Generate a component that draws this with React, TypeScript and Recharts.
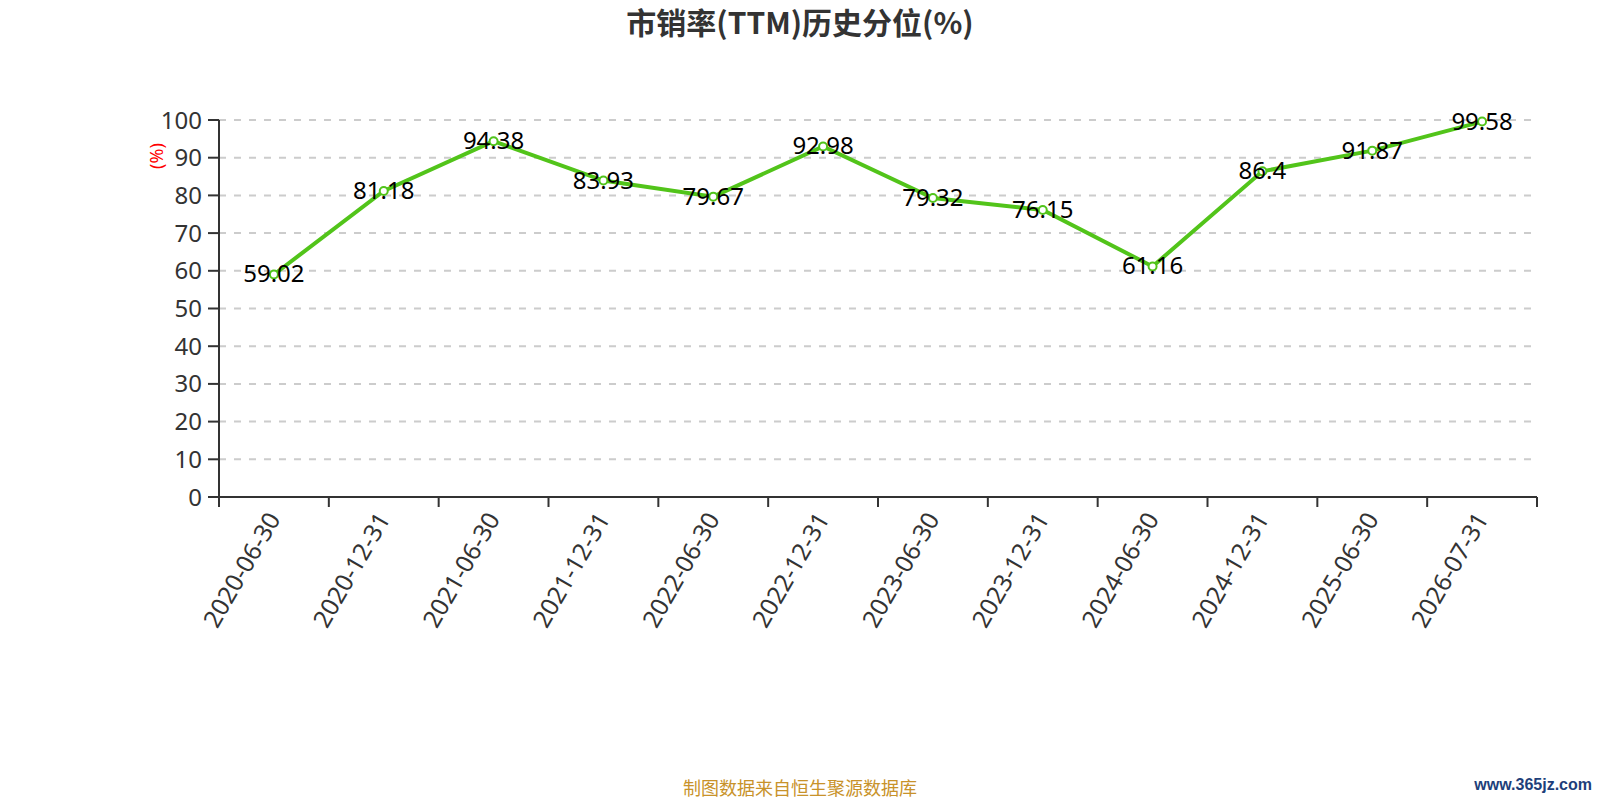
import { LineChart, Line, XAxis, YAxis, CartesianGrid, LabelList } from "recharts";

const dates = [
  "2020-06-30", "2020-12-31", "2021-06-30", "2021-12-31", "2022-06-30", "2022-12-31",
  "2023-06-30", "2023-12-31", "2024-06-30", "2024-12-31", "2025-06-30", "2026-07-31",
];
const percentiles = [59.02, 81.18, 94.38, 83.93, 79.67, 92.98, 79.32, 76.15, 61.16, 86.4, 91.87, 99.58];
const yTicks = [0, 10, 20, 30, 40, 50, 60, 70, 80, 90, 100];

const data = dates.map((date, i) => ({ date, value: percentiles[i] }));

const FONT = "'Noto Sans', 'Noto Sans CJK SC', sans-serif";
const GREEN = "#52c41a";
const AXIS = "#333";

// category label at band centre, tick marks on band boundaries (echarts style)
function DateTick(props: any) {
  const { x, y, payload, index, visibleTicksCount, width } = props;
  const half = payload?.offset ?? width / visibleTicksCount / 2;
  const last = index === visibleTicksCount - 1;
  return (
    <g>
      <line x1={x - half} x2={x - half} y1={y} y2={y + 10} stroke={AXIS} strokeWidth={2} />
      {last && <line x1={x + half} x2={x + half} y1={y} y2={y + 10} stroke={AXIS} strokeWidth={2} />}
      <text
        transform={`translate(${x - 1}, ${y + 17}) rotate(-60)`}
        textAnchor="end"
        dominantBaseline="central"
        fontSize={24.5}
        fontFamily={FONT}
        fill={AXIS}
      >
        {payload.value}
      </text>
    </g>
  );
}

function ValueLabel(props: any) {
  const { x, y, value } = props;
  return (
    <text x={x} y={y + 8} textAnchor="middle" fontSize={24} fontFamily={FONT} fill="#000">
      {value}
    </text>
  );
}

export default function App() {
  return (
    <div style={{ position: "absolute", left: 0, top: 0, width: 1600, height: 800, background: "#fff" }}>
      <div
        style={{
          position: "absolute", left: 0, top: -1, width: 1600, textAlign: "center",
          fontFamily: "'Noto Sans CJK SC', sans-serif", fontWeight: 700, fontSize: 30, color: "#333",
        }}
      >
        市销率(TTM)历史分位(%)
      </div>
      <div
        style={{
          position: "absolute", left: 156, top: 156, transform: "translate(-50%, -50%) rotate(-90deg)",
          fontFamily: FONT, fontSize: 18, color: "red", whiteSpace: "nowrap",
        }}
      >
        (%)
      </div>
      <LineChart width={1600} height={800} data={data} margin={{ top: 120, right: 63, left: 119, bottom: 143 }}>
        <CartesianGrid vertical={false} stroke="#ccc" strokeWidth={2} strokeDasharray="7 8" />
        <XAxis
          dataKey="date"
          scale="band"
          interval={0}
          height={160}
          tickLine={false}
          tickSize={0}
          tickMargin={0}
          axisLine={{ stroke: AXIS, strokeWidth: 2 }}
          tick={<DateTick />}
        />
        <YAxis
          width={100}
          domain={[0, 100]}
          ticks={yTicks}
          interval={0}
          tickSize={11}
          tickMargin={6}
          tickLine={{ stroke: AXIS, strokeWidth: 2 }}
          axisLine={{ stroke: AXIS, strokeWidth: 2 }}
          tick={{ fontSize: 24, fontFamily: FONT, fill: AXIS }}
        />
        <Line
          type="linear"
          dataKey="value"
          stroke={GREEN}
          strokeWidth={4}
          dot={{ r: 4, fill: "#fff", stroke: GREEN, strokeWidth: 2 }}
          isAnimationActive={false}
        >
          <LabelList dataKey="value" content={<ValueLabel />} />
        </Line>
      </LineChart>
      <div
        style={{
          position: "absolute", left: 0, top: 774, width: 1600, textAlign: "center",
          fontFamily: "'Noto Sans CJK SC', sans-serif", fontSize: 18, color: "#c8922a",
        }}
      >
        制图数据来自恒生聚源数据库
      </div>
      <div
        style={{
          position: "absolute", right: 8, top: 776, fontFamily: "'Liberation Sans', sans-serif",
          fontSize: 16, fontWeight: 700, color: "#1e3f7a",
        }}
      >
        www.365jz.com
      </div>
    </div>
  );
}
